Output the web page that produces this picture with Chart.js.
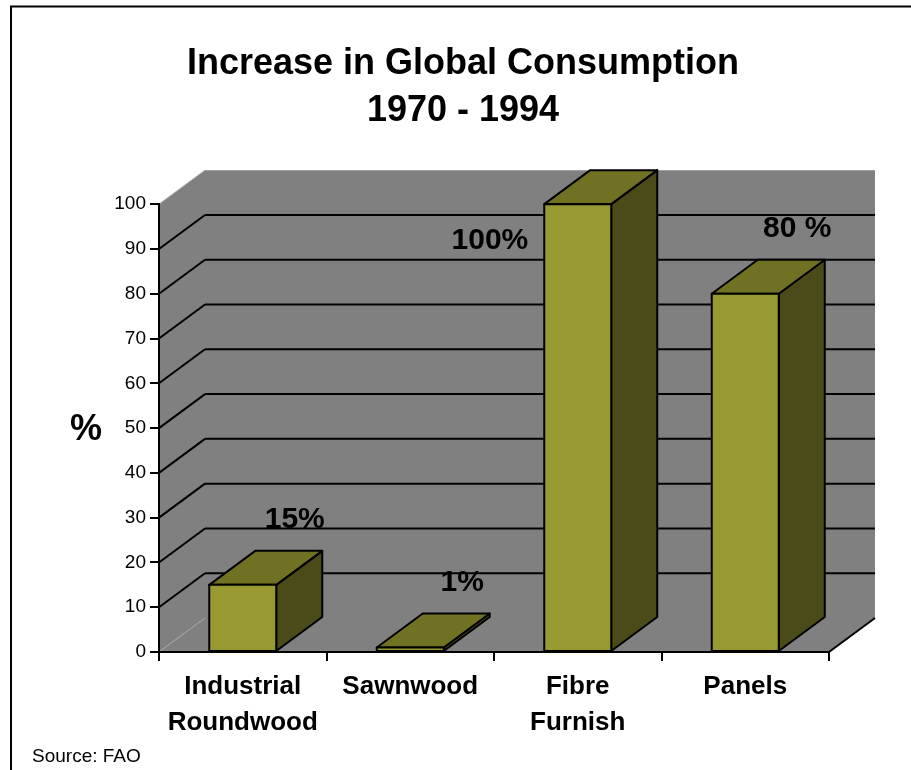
<!DOCTYPE html>
<html>
<head>
<meta charset="utf-8">
<title>Increase in Global Consumption 1970 - 1994</title>
<script src="https://cdn.jsdelivr.net/npm/chart.js@4/dist/chart.umd.min.js"></script>
<style>
  html, body { margin: 0; padding: 0; background: #fff; }
  #wrap { width: 911px; height: 770px; }
</style>
</head>
<body>
<div id="wrap"><canvas id="chart" width="911" height="770"></canvas></div>
<script>
// ── Data ──────────────────────────────────────────────────────────────────────
const CATEGORIES   = [['Industrial', 'Roundwood'], ['Sawnwood'], ['Fibre', 'Furnish'], ['Panels']];
const INCREASE_PCT = [15, 1, 100, 80];
const VALUE_LABELS = ['15%', '1%', '100%', '80 %'];
const Y_MIN = 0, Y_MAX = 100, Y_STEP = 10;

// ── Look ──────────────────────────────────────────────────────────────────────
const FONT  = "'Liberation Sans', Arial, Helvetica, sans-serif";
const DEPTH = { dx: 46, dy: -34 };          // 3D offset of the back plane
const WALL  = '#808080';
const FACE  = { front: '#999933', top: '#717124', side: '#4b4b1a' };

Chart.defaults.font.family = FONT;
Chart.defaults.color = '#000';

function poly(ctx, pts) {
  ctx.beginPath();
  ctx.moveTo(pts[0][0], pts[0][1]);
  for (let i = 1; i < pts.length; i++) ctx.lineTo(pts[i][0], pts[i][1]);
  ctx.closePath();
}

function line(ctx, x1, y1, x2, y2) {
  ctx.beginPath();
  ctx.moveTo(x1, y1);
  ctx.lineTo(x2, y2);
  ctx.stroke();
}

// Walls, floor, frame and the 3D columns
const box3d = {
  id: 'box3d',
  beforeDraw(chart) {
    const { ctx, chartArea: a, scales: { y } } = chart;
    const { dx, dy } = DEPTH;
    ctx.save();
    ctx.fillStyle = '#fff';
    ctx.fillRect(0, 0, chart.width, chart.height);

    // outer frame (runs off the right and bottom edges)
    ctx.strokeStyle = '#000';
    ctx.lineWidth = 2;
    ctx.strokeRect(11, 6.5, chart.width + 20, chart.height + 20);

    // back wall, floor, side wall
    ctx.fillStyle = WALL;
    poly(ctx, [[a.left + dx, a.top + dy], [a.right + dx, a.top + dy],
               [a.right + dx, a.bottom + dy], [a.left + dx, a.bottom + dy]]);
    ctx.fill();
    poly(ctx, [[a.left, a.bottom], [a.right, a.bottom],
               [a.right + dx, a.bottom + dy], [a.left + dx, a.bottom + dy]]);
    ctx.fill();
    poly(ctx, [[a.left, a.bottom], [a.left, a.top],
               [a.left + dx, a.top + dy], [a.left + dx, a.bottom + dy]]);
    ctx.fill();

    // gridlines on side and back walls
    y.ticks.forEach(t => {
      const py = y.getPixelForValue(t.value);
      if (t.value === Y_MIN || t.value === Y_MAX) {
        ctx.strokeStyle = '#a8a8a8';
        ctx.lineWidth = 1;
        line(ctx, a.left, py, a.left + dx, py + dy);
        return;
      }
      ctx.strokeStyle = '#000';
      ctx.lineWidth = 2;
      line(ctx, a.left, py, a.left + dx, py + dy);
      line(ctx, a.left + dx, py + dy, a.right + dx, py + dy);
    });

    // right edge of the floor
    ctx.strokeStyle = '#000';
    ctx.lineWidth = 2;
    line(ctx, a.right, a.bottom, a.right + dx, a.bottom + dy);
    ctx.restore();
  },

  afterDatasetsDraw(chart) {
    const { ctx, chartArea: a } = chart;
    const { dx, dy } = DEPTH;
    const meta = chart.getDatasetMeta(0);
    ctx.save();
    ctx.strokeStyle = '#000';
    ctx.lineWidth = 2;
    ctx.lineJoin = 'round';

    meta.data.forEach((bar, i) => {
      const { x, y, base, width } = bar.getProps(['x', 'y', 'base', 'width'], true);
      const l = x - width / 2, r = x + width / 2;

      ctx.fillStyle = FACE.side;
      poly(ctx, [[r, base], [r, y], [r + dx, y + dy], [r + dx, base + dy]]);
      ctx.fill(); ctx.stroke();

      ctx.fillStyle = FACE.top;
      poly(ctx, [[l, y], [r, y], [r + dx, y + dy], [l + dx, y + dy]]);
      ctx.fill(); ctx.stroke();

      ctx.fillStyle = FACE.front;
      poly(ctx, [[l, y], [r, y], [r, base], [l, base]]);
      ctx.fill(); ctx.stroke();

      // value label: above and right of the column, or beside it when there is no room
      ctx.fillStyle = '#000';
      ctx.font = `bold 30px ${FONT}`;
      ctx.textBaseline = 'middle';
      if (y - 65 > a.top + dy) {
        ctx.textAlign = 'center';
        ctx.fillText(VALUE_LABELS[i], x + 52, y - 65);
      } else {
        ctx.textAlign = 'right';
        ctx.fillText(VALUE_LABELS[i], l - 16, y + 37);
      }
    });
    ctx.restore();
  },

  afterDraw(chart) {
    const { ctx, chartArea: a } = chart;
    ctx.save();
    ctx.fillStyle = '#000';
    ctx.font = `bold 36px ${FONT}`;
    ctx.textAlign = 'center';
    ctx.textBaseline = 'middle';
    ctx.fillText('%', a.left - 73, (a.top + a.bottom) / 2 + 2);

    ctx.font = `19px ${FONT}`;
    ctx.textAlign = 'left';
    ctx.textBaseline = 'alphabetic';
    ctx.fillText('Source: FAO', 32, 762);
    ctx.restore();
  }
};

// ── Chart ─────────────────────────────────────────────────────────────────────
new Chart(document.getElementById('chart').getContext('2d'), {
  type: 'bar',
  data: {
    labels: CATEGORIES,
    datasets: [{
      data: INCREASE_PCT,
      backgroundColor: 'rgba(0,0,0,0)',
      borderWidth: 0,
      barPercentage: 0.4,
      categoryPercentage: 1,
    }]
  },
  options: {
    responsive: false,
    animation: false,
    devicePixelRatio: 1,
    layout: { padding: { left: 97, right: 82, top: 0, bottom: 0 } },
    plugins: {
      legend: { display: false },
      tooltip: { enabled: false },
      title: {
        display: true,
        text: ['Increase in Global Consumption', '1970 - 1994'],
        color: '#000',
        font: { size: 36, weight: 'bold', lineHeight: 1.28 },
        padding: { top: 41.5, bottom: 70.5 },
      }
    },
    scales: {
      x: {
        grid: { drawOnChartArea: false, offset: true, tickLength: 9, color: '#000', lineWidth: 2 },
        border: { color: '#000', width: 2 },
        ticks: {
          color: '#000', padding: 8, maxRotation: 0, autoSkip: false,
          font: { size: 26, weight: 'bold', lineHeight: 1.385 }
        },
        afterFit(scale) { scale.height = 118; }
      },
      y: {
        min: Y_MIN, max: Y_MAX,
        grid: { drawOnChartArea: false, tickLength: 9, color: '#000', lineWidth: 2 },
        border: { color: '#000', width: 2 },
        ticks: { stepSize: Y_STEP, color: '#000', padding: 4, font: { size: 19 } },
        afterFit(scale) { scale.width = 62; }
      }
    }
  },
  plugins: [box3d]
});
</script>
</body>
</html>
